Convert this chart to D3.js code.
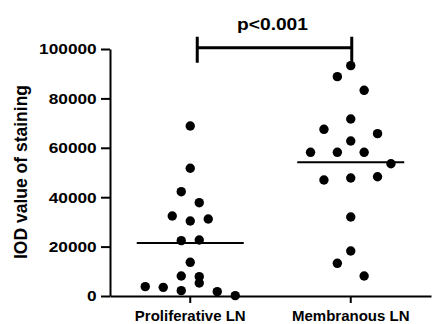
<!DOCTYPE html>
<html>
<head>
<meta charset="utf-8">
<script src="https://cdnjs.cloudflare.com/ajax/libs/d3/7.8.5/d3.min.js"></script>
<style>
  body { margin: 0; background: #fff; }
  text { font-family: "Liberation Sans", Arial, sans-serif; font-weight: bold; fill: #000; }
</style>
</head>
<body>
<script>
var categories = ["Proliferative LN", "Membranous LN"]

// IOD values, with the column slot each dot sits in
var prolifValues = [68830, 51700, 42230, 37780, 32390, 30360, 31170, 22400, 22670, 13640, 8100, 7830, 5260, 3780, 3510, 2160, 1750, 150]
var prolifCols   = [0, 0, -1, 1, -2, 0, 2, -1, 1, 0, -1, 1, 1, -5, -3, -1, 3, 5]
var membValues = [93250, 88800, 83270, 71660, 67480, 65720, 62750, 58170, 58170, 58170, 53560, 46960, 47770, 48300, 31980, 18220, 13230, 8100]
var membCols   = [0, -1, 1, 0, -2, 2, 0, -3, -1, 1, 3, -2, 0, 2, 0, 0, -1, 1]

var yTicks = [0, 20000, 40000, 60000, 80000, 100000]
var pLabel = "p<0.001"
var yTitle = "IOD value of staining"

var W = 432, H = 324
var colStep = [9, 13.4]

var svg = d3.select("body").append("svg")
	.attr("width", W)
	.attr("height", H)

var x = d3.scaleBand().domain(categories).range([110, 431])
var y = d3.scaleLinear().domain([0, 100000]).range([296, 49])

var groups = [
	{ cat: categories[0], values: prolifValues, cols: prolifCols, step: colStep[0] },
	{ cat: categories[1], values: membValues, cols: membCols, step: colStep[1] }
]

// y axis
var yAxis = svg.append("g")
	.attr("transform", "translate(110,0)")
	.call(d3.axisLeft(y).tickValues(yTicks).tickSize(9).tickSizeOuter(0).tickFormat(d3.format("d")))
yAxis.select(".domain").attr("stroke-width", 2)
yAxis.selectAll(".tick line").attr("stroke-width", 2)
yAxis.selectAll(".tick text")
	.attr("x", -11.6)
	.attr("transform", "scale(1.15,1)")
	.style("font-size", "15px")

// x axis
var xAxis = svg.append("g")
	.attr("transform", "translate(0,296)")
	.call(d3.axisBottom(x).tickSize(7).tickSizeOuter(0).tickPadding(10))
xAxis.select(".domain").attr("stroke-width", 2)
xAxis.selectAll(".tick line").attr("stroke-width", 2)
xAxis.selectAll(".tick text")
	.style("font-size", "15px")
	.attr("dy", "0.71em")
	.attr("y", 14)

// y title
svg.append("text")
	.attr("transform", "translate(27,172) rotate(-90)")
	.attr("text-anchor", "middle")
	.style("font-size", "17.5px")
	.text(yTitle)

// dots
groups.forEach(function(g) {
	var cx = x(g.cat) + x.bandwidth() / 2
	svg.append("g").selectAll("circle")
		.data(g.values)
		.enter()
		.append("circle")
		.attr("cx", function(d, i) { return cx + g.cols[i] * g.step })
		.attr("cy", function(d) { return y(d) })
		.attr("r", 4.7)
		.attr("fill", "#000")

	var m = d3.mean(g.values)
	svg.append("line")
		.attr("x1", cx - 53.5)
		.attr("x2", cx + 53.5)
		.attr("y1", y(m))
		.attr("y2", y(m))
		.attr("stroke", "#000")
		.attr("stroke-width", 2)
})

// significance bracket
var bx1 = x(categories[0]) + x.bandwidth() / 2 + 7
var bx2 = x(categories[1]) + x.bandwidth() / 2 + 1
var by = 47.7
svg.append("path")
	.attr("d", "M" + bx1 + "," + by + "H" + bx2 + "M" + bx1 + "," + (by - 11) + "V" + (by + 15) + "M" + bx2 + "," + (by - 11) + "V" + (by + 15))
	.attr("stroke", "#000")
	.attr("stroke-width", 3)
	.attr("fill", "none")

svg.append("text")
	.attr("transform", "translate(" + ((bx1 + bx2) / 2 - 2) + ",30) scale(1.2,1)")
	.attr("text-anchor", "middle")
	.style("font-size", "16px")
	.text(pLabel)
</script>
</body>
</html>
